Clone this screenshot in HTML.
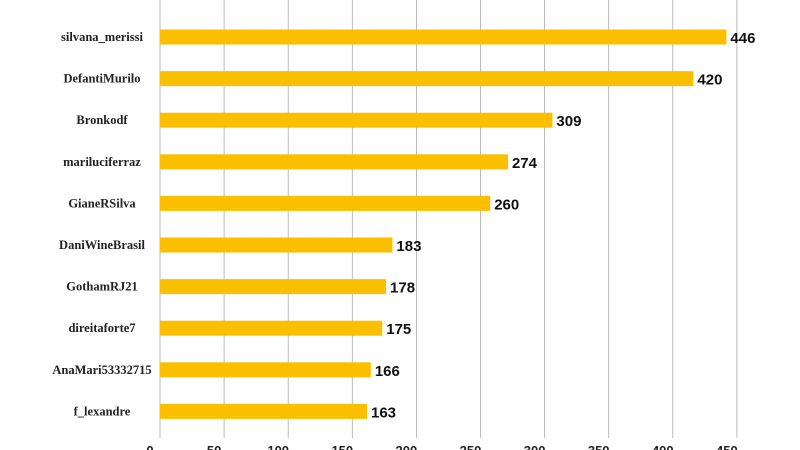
<!DOCTYPE html>
<html><head><meta charset="utf-8"><style>
html,body{margin:0;padding:0;background:#fff;}
svg{display:block;}
</style></head><body>
<svg id="chart" width="800" height="450" xmlns="http://www.w3.org/2000/svg"></svg>
<script>
const categories=["silvana_merissi","DefantiMurilo","Bronkodf","mariluciferraz","GianeRSilva","DaniWineBrasil","GothamRJ21","direitaforte7","AnaMari53332715","f_lexandre"];
const values=[446,420,309,274,260,183,178,175,166,163];
const ticks=[0,50,100,150,200,250,300,350,400,450];
const svg=document.getElementById('chart');
const NS='http://www.w3.org/2000/svg';
const x0=160,kx=1.27;
const xs=v=>x0+v*kx;
const y0=37,dy=41.6;
const ys=i=>y0+i*dy;
function mk(t,a){const e=document.createElementNS(NS,t);for(const k in a)e.setAttribute(k,a[k]);svg.appendChild(e);return e;}
ticks.forEach(t=>{
 const g=mk('line',{x1:xs(t)+t*0.012,x2:xs(t)+t*0.012,y1:0,y2:438,stroke:'#aaa','stroke-width':0.8});
 
 
 const l=mk('text',{x:xs(t)+t*0.012-10,y:455,'text-anchor':'middle','font-family':'Liberation Sans, sans-serif','font-weight':'bold','font-size':'13',fill:'#222'});
 l.textContent=t;
 
 
});
categories.forEach((c,i)=>{
 const y=ys(i);
 const lab=mk('text',{x:102,y:y+4,'text-anchor':'middle','font-family':'Liberation Serif, serif','font-weight':'bold','font-size':'12.5',fill:'#222'});
 lab.textContent=c;
 
 
 const b=mk('rect',{x:x0,y:y-7.5,width:xs(values[i])-x0,height:15,fill:'#fbbf00'});
 
 
 const v=mk('text',{x:xs(values[i])+4,y:y+6,'font-family':'Liberation Sans, sans-serif','font-weight':'bold','font-size':'15',fill:'#111'});
 v.textContent=values[i];
 
 
});
</script>
</body></html>
